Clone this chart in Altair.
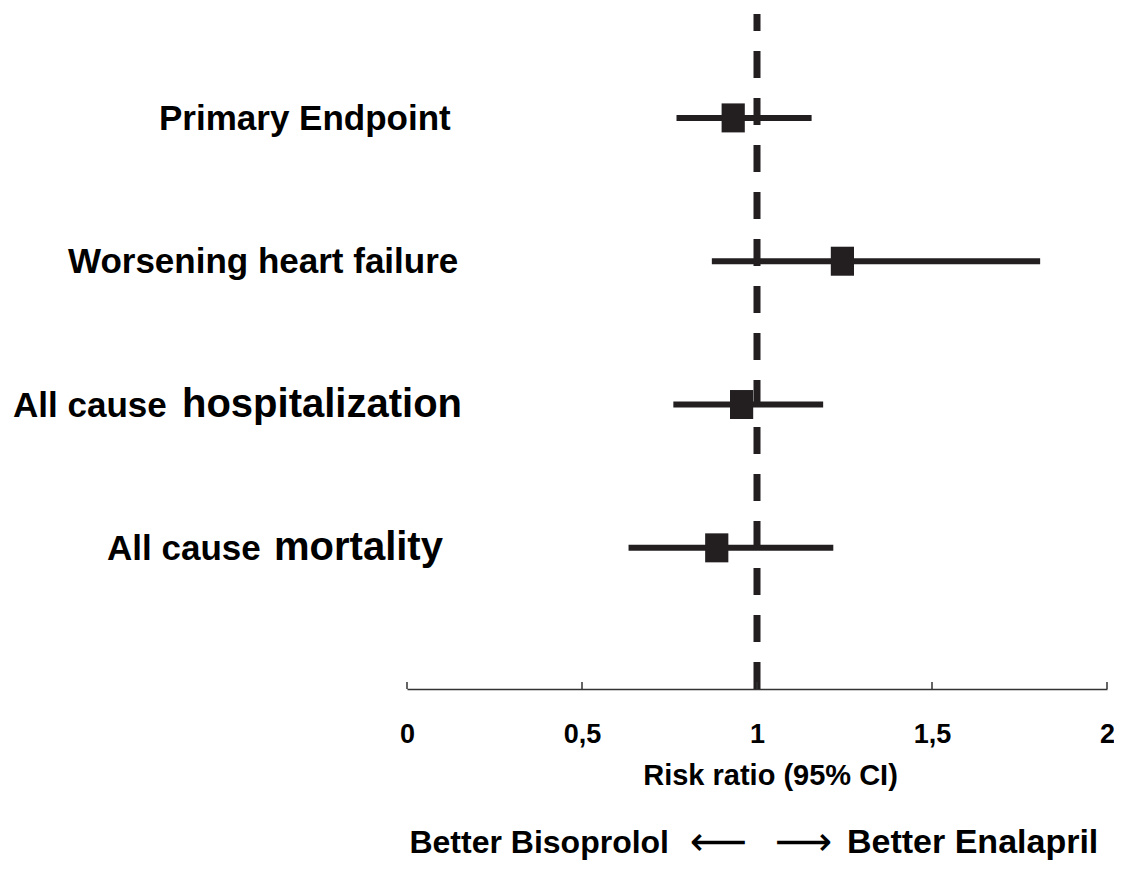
import altair as alt
import pandas as pd

# ---- data ----
outcomes = ["Primary Endpoint", "Worsening heart failure",
            "All cause hospitalization", "All cause mortality"]
risk_ratio = [0.932, 1.244, 0.956, 0.885]
ci_low = [0.770, 0.871, 0.761, 0.633]
ci_high = [1.156, 1.809, 1.189, 1.218]
label_prefix = ["", "", "All cause", "All cause"]
label_main = ["Primary Endpoint", "Worsening heart failure", "hospitalization", "mortality"]
tick_values = [0, 0.5, 1, 1.5, 2]
reference_value = [1]
footer_left = ["Better Bisoprolol"]
footer_right = ["Better Enalapril"]
arrow_left = ["\u27f5"]
arrow_right = ["\u27f6"]

FONT = "Liberation Sans"
INK = "#231f20"
W, H = 700, 675

df = pd.DataFrame({"outcome": outcomes, "rr": risk_ratio, "lo": ci_low, "hi": ci_high,
                   "prefix": label_prefix, "main": label_main})
ticks_df = pd.DataFrame({"tick": tick_values})
ref_df = pd.DataFrame({"ref": reference_value})
foot_df = pd.DataFrame({"ref": reference_value, "left": footer_left, "right": footer_right,
                        "al": arrow_left, "ar": arrow_right})

xscale = alt.Scale(domain=[0, 2], nice=False, zero=False)
xaxis = alt.Axis(values=tick_values, labelExpr="replace(toString(datum.value), '.', ',')",
                 tickSize=0, grid=False, domainColor="#333333", domainWidth=1.5,
                 labelFont=FONT, labelFontWeight="bold", labelFontSize=27, labelColor="black",
                 labelPadding=32, labelFlush=False,
                 title="Risk ratio (95% CI)", titleFont=FONT, titleFontWeight="bold",
                 titleFontSize=29, titleColor="black", titlePadding=14,
                 titleX=363, titleAlign="center")
yenc = alt.Y("outcome:N", sort=outcomes, axis=None,
             scale=alt.Scale(type="point", padding=0.855, align=0.424))

base = alt.Chart(df)

ci = base.mark_rule(color=INK, strokeWidth=6).encode(
    x=alt.X("lo:Q", scale=xscale, axis=xaxis), x2="hi:Q", y=yenc)

pts = base.mark_point(shape="M-0.8,-1H0.8V1H-0.8Z", filled=True, opacity=1,
                      color=INK, size=841, strokeWidth=0).encode(
    x=alt.X("rr:Q", scale=xscale, axis=xaxis), y=yenc)

ref = alt.Chart(ref_df).mark_rule(color=INK, strokeWidth=7, strokeDash=[27, 20]).encode(
    x=alt.X("ref:Q", scale=xscale, axis=xaxis), y=alt.value(H), y2=alt.value(0))

tick_marks = alt.Chart(ticks_df).mark_rule(color="#333333", strokeWidth=1.5).encode(
    x=alt.X("tick:Q", scale=xscale, axis=xaxis), y=alt.value(H - 7), y2=alt.value(H))

# label layout (pixel offsets of text starts relative to the plot's left edge)
label_layout = [(-248, None), (-339, None), (-394, -225), (-300, -133)]
label_layers = []
for i, (x_first, x_main) in enumerate(label_layout):
    row = base.transform_filter(alt.datum.outcome == outcomes[i])
    if x_main is None:
        label_layers.append(row.mark_text(font=FONT, fontWeight="bold", fontSize=35, align="left",
                                          baseline="alphabetic", dy=12, color="black").encode(
            x=alt.value(x_first), y=yenc, text="main:N"))
    else:
        label_layers.append(row.mark_text(font=FONT, fontWeight="bold", fontSize=35, align="left",
                                          baseline="alphabetic", dy=12, color="black").encode(
            x=alt.value(x_first), y=yenc, text="prefix:N"))
        label_layers.append(row.mark_text(font=FONT, fontWeight="bold", fontSize=40, align="left",
                                          baseline="alphabetic", dy=12, color="black").encode(
            x=alt.value(x_main), y=yenc, text="main:N"))

FOOT_Y = 839
foot = alt.Chart(foot_df)
fx = alt.X("ref:Q", scale=xscale, axis=xaxis)
foot_l = foot.mark_text(font=FONT, fontWeight="bold", fontSize=32, align="right",
                        baseline="alphabetic", dx=-88, color="black").encode(
    x=fx, y=alt.value(FOOT_Y), text="left:N")
foot_r = foot.mark_text(font=FONT, fontWeight="bold", fontSize=34, align="left",
                        baseline="alphabetic", dx=90, color="black").encode(
    x=fx, y=alt.value(FOOT_Y), text="right:N")
arr_l = foot.mark_text(font="DejaVu Sans", fontSize=40, align="right",
                       baseline="alphabetic", dx=-10, color="black").encode(
    x=fx, y=alt.value(FOOT_Y + 2), text="al:N")
arr_r = foot.mark_text(font="DejaVu Sans", fontSize=40, align="left",
                       baseline="alphabetic", dx=18, color="black").encode(
    x=fx, y=alt.value(FOOT_Y + 2), text="ar:N")

chart = alt.layer(ref, tick_marks, ci, pts, *label_layers, foot_l, foot_r, arr_l, arr_r).properties(
    width=W, height=H,
    background="white",
    autosize=alt.AutoSizeParams(type="none"),
    padding={"left": 399, "top": 6, "right": 7, "bottom": 174},
).configure_view(strokeWidth=0, stroke="transparent")

chart.save("out.html", embed_options={"renderer": "svg", "actions": False})
